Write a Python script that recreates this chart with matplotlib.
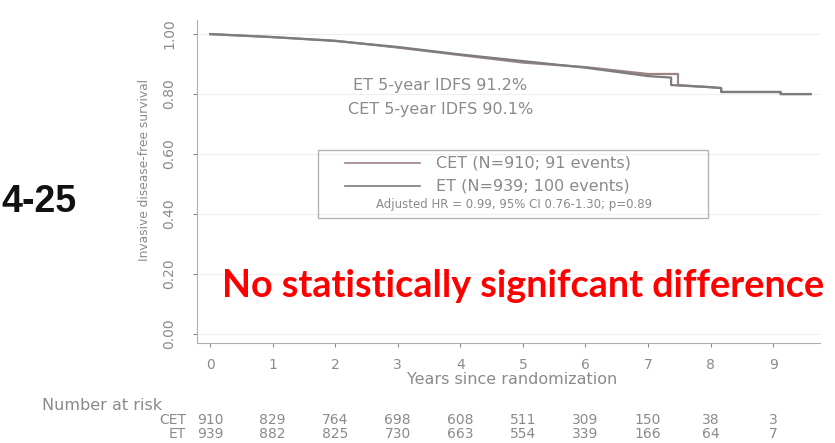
import numpy as np
import matplotlib
matplotlib.use("Agg")
import matplotlib.pyplot as plt
from matplotlib.transforms import blended_transform_factory

# Kaplan-Meier curves (years, survival); repeated times mark the visible drops
cet_t = [0, 1, 2, 3, 4, 5, 6, 7, 7.48, 7.48, 8.0, 8.17, 8.17, 9.12, 9.12, 9.6]
cet_s = [1.0, 0.99, 0.978, 0.955, 0.93, 0.905, 0.89, 0.867, 0.867, 0.83, 0.823, 0.82, 0.807, 0.807, 0.80, 0.80]
et_t = [0, 1, 2, 3, 4, 5, 6, 7, 7.37, 7.37, 8.0, 8.17, 8.17, 9.12, 9.12, 9.6]
et_s = [1.0, 0.99, 0.977, 0.957, 0.932, 0.91, 0.888, 0.86, 0.855, 0.83, 0.823, 0.82, 0.807, 0.807, 0.80, 0.80]

years = [0, 1, 2, 3, 4, 5, 6, 7, 8, 9]
cet_risk = [910, 829, 764, 698, 608, 511, 309, 150, 38, 3]
et_risk = [939, 882, 825, 730, 663, 554, 339, 166, 64, 7]
y_ticks = [0.0, 0.2, 0.4, 0.6, 0.8, 1.0]

grey = "#8a8a8a"
cet_col = "#9c8484"
et_col = "#7c7c7c"

fig = plt.figure(figsize=(8.35, 4.43), dpi=100)
ax = fig.add_axes([197 / 835, 1 - 343 / 443, (820 - 197) / 835, (343 - 20) / 443])

for y in y_ticks:
    ax.axhline(y, color="#efefef", lw=0.8, zorder=0)

ax.plot(cet_t, cet_s, color=cet_col, lw=1.6)
ax.plot(et_t, et_s, color=et_col, lw=1.6)

ax.set_xlim(-0.21, 9.75)
ax.set_ylim(-0.03, 1.047)
ax.set_xticks(years)
ax.set_yticks(y_ticks)
ax.set_yticklabels([f"{v:.2f}" for v in y_ticks], rotation=90, va="center")
ax.tick_params(colors=grey, labelsize=10, length=3)
ax.tick_params(axis="y", pad=12)
ax.tick_params(axis="x", pad=8)
for s in ["top", "right"]:
    ax.spines[s].set_visible(False)
for s in ["left", "bottom"]:
    ax.spines[s].set_color("#b0b0b0")
ax.set_xlabel("Years since randomization", color=grey, fontsize=11.5)
ax.xaxis.set_label_coords((512 - 197) / 623, (343 - 372) / 323)
ax.set_ylabel("Invasive disease-free survival", color=grey, fontsize=8.8)
ax.yaxis.set_label_coords((151 - 197) / 623, (343 - 170) / 323)

ax.text(3.68, 0.827, "ET 5-year IDFS 91.2%", color=grey, fontsize=11.5, ha="center", va="center")
ax.text(3.68, 0.747, "CET 5-year IDFS 90.1%", color=grey, fontsize=11.5, ha="center", va="center")

# legend box drawn by hand
px = lambda p: (p - 210) / 62.56
ax.add_patch(plt.Rectangle((px(318), 0.387), px(708) - px(318), 0.226, fill=False, ec="#b4b4b4", lw=1))
ax.plot([px(345), px(420)], [0.57, 0.57], color=cet_col, lw=1.2)
ax.plot([px(345), px(420)], [0.493, 0.493], color=et_col, lw=1.2)
ax.text(px(436), 0.57, "CET (N=910; 91 events)", color=grey, fontsize=11.5, va="center")
ax.text(px(436), 0.493, "ET (N=939; 100 events)", color=grey, fontsize=11.5, va="center")
ax.text(px(514), 0.433, "Adjusted HR = 0.99, 95% CI 0.76-1.30; p=0.89",
        color=grey, fontsize=8.5, ha="center", va="center")

# number at risk table
tr = blended_transform_factory(ax.transData, fig.transFigure)
fig.text(42 / 835, 1 - 405 / 443, "Number at risk", color=grey, fontsize=11.5, va="center")
ax.text(-0.38, 1 - 420 / 443, "CET", transform=tr, color=grey, fontsize=10, ha="right", va="center")
ax.text(-0.38, 1 - 434 / 443, "ET", transform=tr, color=grey, fontsize=10, ha="right", va="center")
for x, c, e in zip(years, cet_risk, et_risk):
    ax.text(x, 1 - 420 / 443, str(c), transform=tr, color=grey, fontsize=10, ha="center", va="center")
    ax.text(x, 1 - 434 / 443, str(e), transform=tr, color=grey, fontsize=10, ha="center", va="center")

fig.text(1 / 835, 1 - 202 / 443, "4-25", fontsize=27, fontweight="bold", color="#111111",
         family="Liberation Sans", va="center", ha="left")
fig.text(222 / 835, 1 - 286 / 443, "No statistically signifcant difference", fontsize=27.2,
         fontweight="bold", color="#ff0000", family="Lato", va="center", ha="left")

fig.savefig("out.png", dpi=100)
